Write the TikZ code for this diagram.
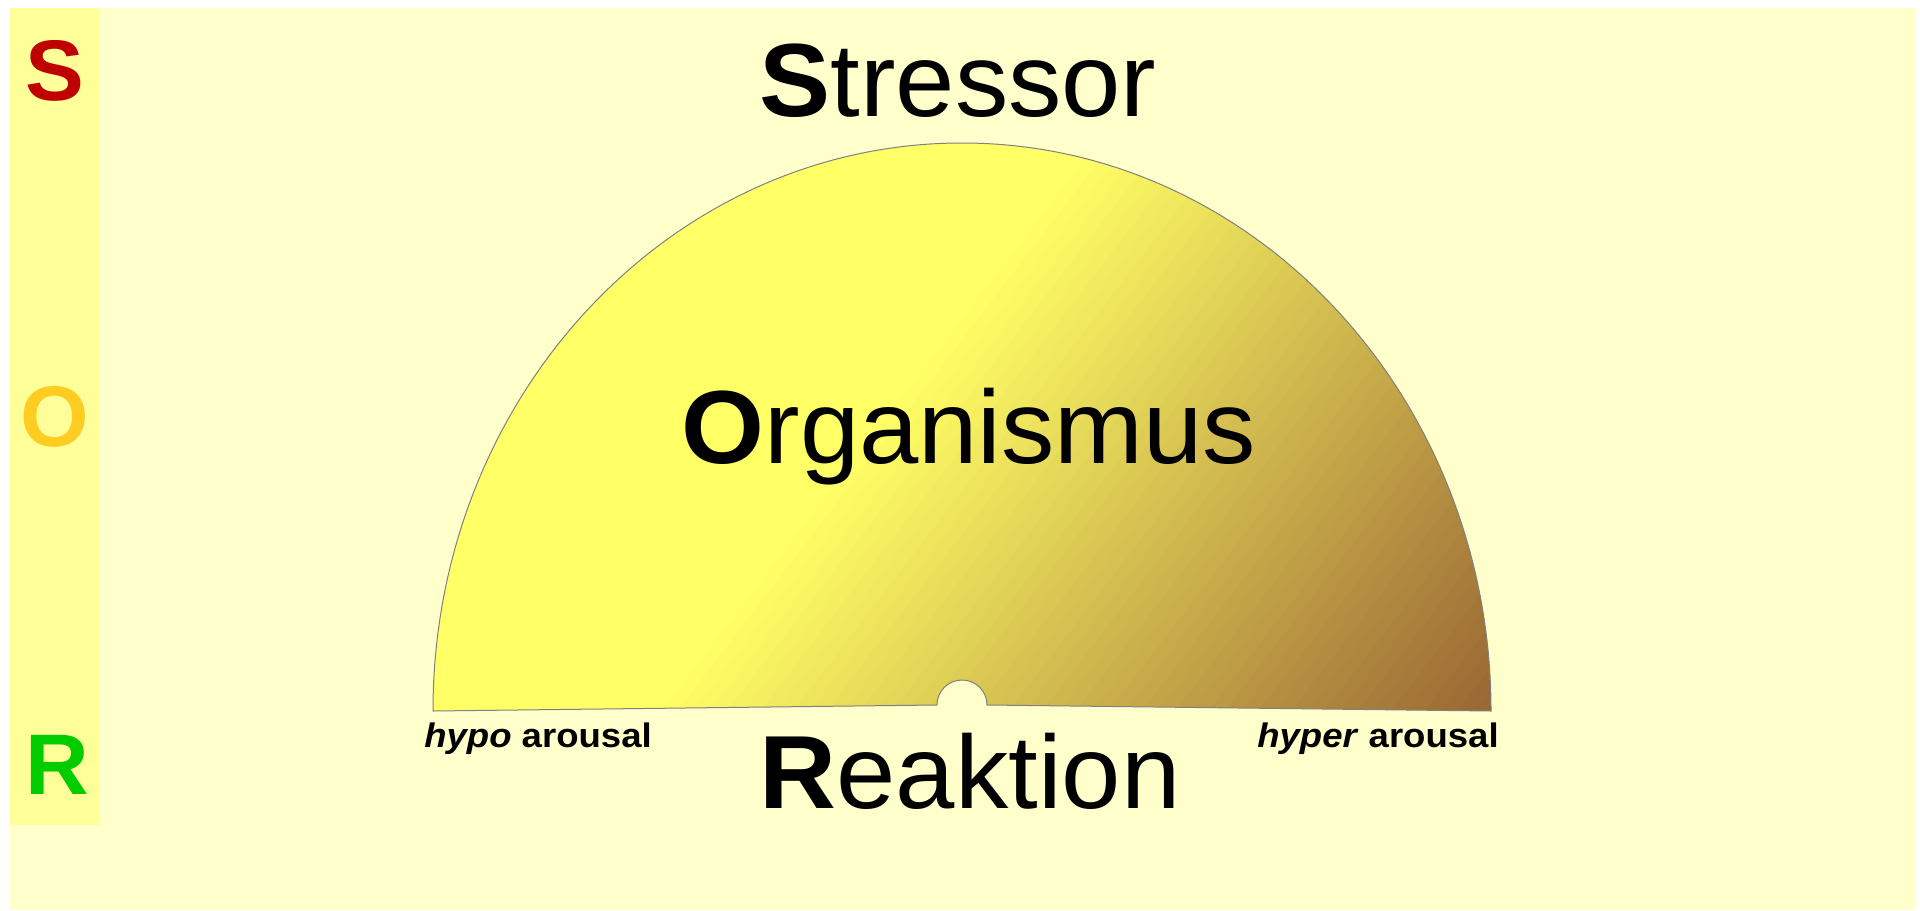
\documentclass[tikz,border=0pt]{standalone}
\usepackage{fontspec}
\setmainfont[FakeStretch=1.025]{Liberation Sans}
\newfontfamily\arousalfont[FakeStretch=1.075]{Liberation Sans}
\usetikzlibrary{positioning}
\definecolor{bgyellow}{HTML}{FFFFCC}
\definecolor{stripyellow}{HTML}{FFFF99}
\definecolor{orgyellow}{HTML}{FFFF66}
\definecolor{orgbrown}{HTML}{996633}
\definecolor{sred}{HTML}{C00000}
\definecolor{ogold}{HTML}{FFCC22}
\definecolor{rgreen}{HTML}{00CC00}
\definecolor{rimgrey}{HTML}{808080}
\tikzset{
  bigword/.style={font=\fontsize{52}{60}\selectfont,inner sep=0pt,anchor=base},
  sorletter/.style={font=\bfseries\fontsize{43}{50}\selectfont,inner sep=0pt,anchor=base},
  arousal/.style={font=\arousalfont\bfseries\fontsize{17}{20}\selectfont,inner sep=0pt,anchor=base},
  rim/.style={draw=rimgrey,line width=0.5pt},
}

\begin{document}
\begin{tikzpicture}[x=0.5pt,y=0.5pt]

% Canvas and background panels
\fill[white] (0,0) rectangle (1920,-910);
\fill[bgyellow] (10,-8) rectangle (1915,-910);
\fill[stripyellow] (10,-8) rectangle (100,-825);

% Half dome: yellow, turning brown towards the lower right
\begin{scope}
  \clip (433,-711) arc[start angle=180,end angle=0,x radius=529,y radius=568]
        -- (987,-705) arc[start angle=0,end angle=180,radius=25] -- cycle;
  \fill[orgyellow] (400,-100) rectangle (1520,-760);
  \foreach \i in {0,...,49}{
    \pgfmathsetmacro{\ca}{1206+16.6*\i}
    \pgfmathsetmacro{\cb}{\ca+18}
    \pgfmathtruncatemacro{\mix}{2*\i+1}
    \fill[orgbrown!\mix!orgyellow] (\ca-76.7,-100) -- (\cb-76.7,-100)
      -- (\cb-582.9,-760) -- (\ca-582.9,-760) -- cycle;
  }
\end{scope}
\draw[rim] (433,-711) arc[start angle=180,end angle=0,x radius=529,y radius=568]
      -- (987,-705) arc[start angle=0,end angle=180,radius=25] -- cycle;

% S-O-R column
\node[sorletter,text=sred] (letS) at (55,-100) {S};
\node[sorletter,text=ogold] (letO) at (55,-446) {O};
\node[sorletter,text=rgreen] (letR) at (57,-794) {R};

% Main words
\node[bigword] (stressor) at (958,-116) {\textbf{S}tressor};
\node[bigword] (organism) at (969,-463) {\textbf{O}rganismus};
\node[bigword] (reaction) at (970,-808) {\textbf{R}eaktion};

% Arousal ends
\node[arousal] (hypo) at (538,-747) {\textit{hypo} arousal};
\node[arousal] (hyper) at (1378,-747) {\textit{hyper} arousal};

\end{tikzpicture}
\end{document}
